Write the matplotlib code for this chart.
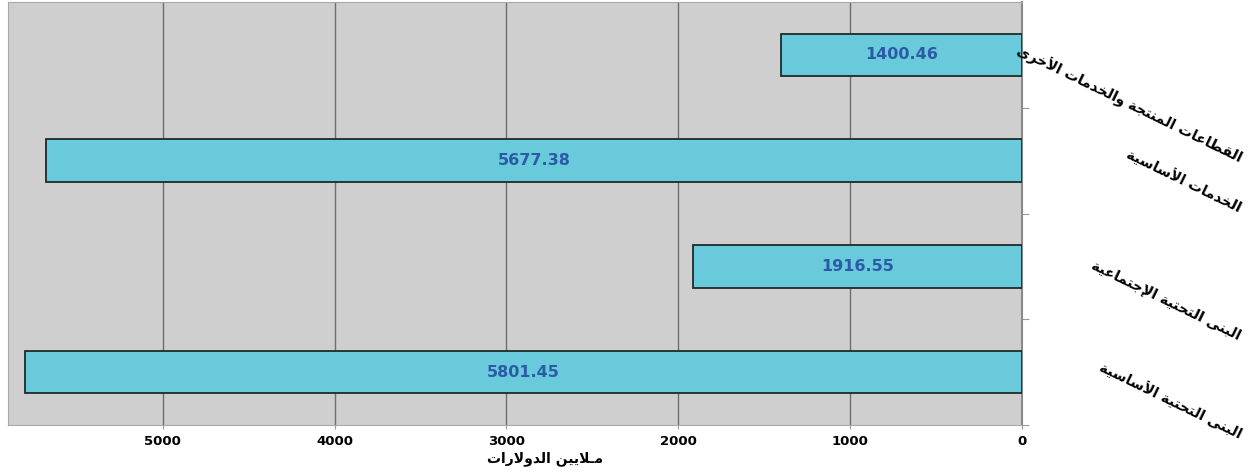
import matplotlib
matplotlib.use("Agg")
import matplotlib.pyplot as plt

# data (top to bottom)
categories = ["القطاعات المنتجة والخدمات الأخرى",
              "الخدمات الأساسية",
              "البنى التحتية الإجتماعية",
              "البنى التحتية الأساسية"]
values = [1400.46, 5677.38, 1916.55, 5801.45]
xticks = [0, 1000, 2000, 3000, 4000, 5000]
xlabel = "مـلايين الدولارات"

# simple arabic shaping: (isolated, final, initial, medial)
FORMS = {
    "\u0627": ("\uFE8D", "\uFE8E", None, None),
    "\u0623": ("\uFE83", "\uFE84", None, None),
    "\u0625": ("\uFE87", "\uFE88", None, None),
    "\u0628": ("\uFE8F", "\uFE90", "\uFE91", "\uFE92"),
    "\u0629": ("\uFE93", "\uFE94", None, None),
    "\u062A": ("\uFE95", "\uFE96", "\uFE97", "\uFE98"),
    "\u062C": ("\uFE9D", "\uFE9E", "\uFE9F", "\uFEA0"),
    "\u062D": ("\uFEA1", "\uFEA2", "\uFEA3", "\uFEA4"),
    "\u062E": ("\uFEA5", "\uFEA6", "\uFEA7", "\uFEA8"),
    "\u062F": ("\uFEA9", "\uFEAA", None, None),
    "\u0631": ("\uFEAD", "\uFEAE", None, None),
    "\u0633": ("\uFEB1", "\uFEB2", "\uFEB3", "\uFEB4"),
    "\u0637": ("\uFEC1", "\uFEC2", "\uFEC3", "\uFEC4"),
    "\u0639": ("\uFEC9", "\uFECA", "\uFECB", "\uFECC"),
    "\u0642": ("\uFED5", "\uFED6", "\uFED7", "\uFED8"),
    "\u0644": ("\uFEDD", "\uFEDE", "\uFEDF", "\uFEE0"),
    "\u0645": ("\uFEE1", "\uFEE2", "\uFEE3", "\uFEE4"),
    "\u0646": ("\uFEE5", "\uFEE6", "\uFEE7", "\uFEE8"),
    "\u0648": ("\uFEED", "\uFEEE", None, None),
    "\u0649": ("\uFEEF", "\uFEF0", None, None),
    "\u064A": ("\uFEF1", "\uFEF2", "\uFEF3", "\uFEF4"),
}
LAM_ALEF = {"\u0627": ("\uFEFB", "\uFEFC"),
            "\u0623": ("\uFEF7", "\uFEF8"),
            "\u0625": ("\uFEF9", "\uFEFA")}
TATWEEL = "\u0640"


def joins_next(c):
    return c == TATWEEL or (c in FORMS and FORMS[c][2] is not None)


def joins(c):
    return c == TATWEEL or c in FORMS


def shape(text):
    out = []
    i = 0
    n = len(text)
    while i < n:
        c = text[i]
        prev = text[i - 1] if i > 0 else " "
        link_prev = joins_next(prev) and joins(c)
        if c == "\u0644" and i + 1 < n and text[i + 1] in LAM_ALEF:
            out.append(LAM_ALEF[text[i + 1]][1 if link_prev else 0])
            i += 2
            continue
        if c not in FORMS:
            out.append(c)
            i += 1
            continue
        nxt = text[i + 1] if i + 1 < n else " "
        link_next = joins_next(c) and joins(nxt)
        iso, fin, ini, med = FORMS[c]
        if link_prev and link_next:
            out.append(med)
        elif link_prev:
            out.append(fin)
        elif link_next:
            out.append(ini)
        else:
            out.append(iso)
        i += 1
    return "".join(out)[::-1]


fig = plt.figure(figsize=(12.58, 4.75), dpi=100)
ax = fig.add_axes([8 / 1258, 1 - 425 / 475, 1014 / 1258, 423 / 475])
ax.set_facecolor("#cfcfcf")

ypos = list(range(len(values)))
ax.barh(ypos, values, height=0.4, color="#68cadb", edgecolor="#1e2a2a",
        linewidth=1.3, zorder=3)
for y, v in zip(ypos, values):
    ax.text(v / 2, y, f"{v:.2f}", ha="center", va="center", color="#2b5ba6",
            fontsize=11.5, fontweight="bold", family="DejaVu Sans", zorder=4)

ax.set_xlim(5900, 0)
ax.set_ylim(3.5, -0.5)
ax.set_xticks(xticks)
ax.set_xticklabels([str(t) for t in xticks], fontsize=9.5, fontweight="bold",
                   family="DejaVu Sans")
ax.grid(axis="x", color="#6e6e6e", linewidth=1, zorder=0)
ax.set_yticks([0.5, 1.5, 2.5, 3.5])
ax.set_yticklabels([])
ax.yaxis.tick_right()
ax.tick_params(axis="y", length=5, color="#9a9a9a")
ax.tick_params(axis="x", length=3, color="#9a9a9a", pad=4)

for s in ["top", "left", "bottom"]:
    ax.spines[s].set_color("#a8a8a8")
ax.spines["right"].set_color("#8a8a8a")
ax.spines["right"].set_linewidth(1.5)

ax.set_xlabel(shape(xlabel), fontsize=10, fontweight="bold",
              family="DejaVu Sans")
ax.xaxis.set_label_coords(0.53, -0.062)

# category labels, rotated, right end positions
label_ends = [1.05, 1.52, 2.72, 3.66]
for lab, ye in zip(categories, label_ends):
    ax.text(1.212, ye, shape(lab), transform=ax.get_yaxis_transform(),
            ha="right", va="bottom", rotation=-26, rotation_mode="anchor",
            fontsize=10.3, fontweight="bold", family="DejaVu Sans", clip_on=False)

fig.savefig("out.png", dpi=100)
